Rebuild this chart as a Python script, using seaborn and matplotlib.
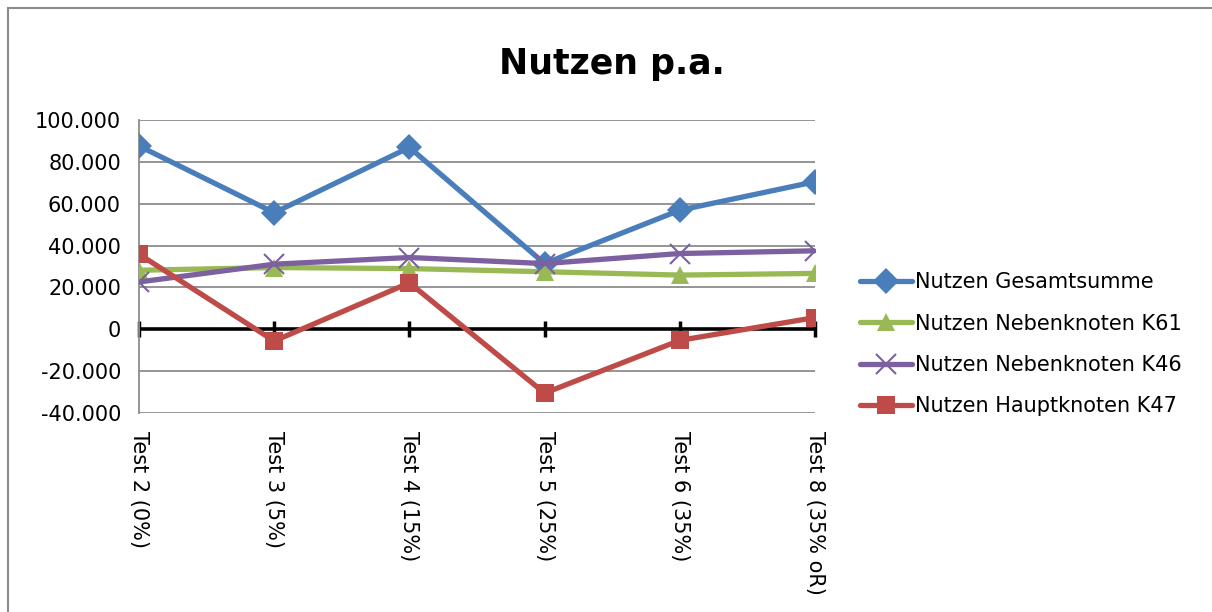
import pandas as pd
import matplotlib.pyplot as plt
import matplotlib.patches as patches
from matplotlib.ticker import FuncFormatter
import seaborn as sns

# Chart data
tests = ["Test 2 (0%)", "Test 3 (5%)", "Test 4 (15%)", "Test 5 (25%)", "Test 6 (35%)", "Test 8 (35% oR)"]
gesamtsumme = [87600, 55700, 86900, 31400, 56900, 70500]
neben_k61 = [28200, 29500, 29000, 27500, 25900, 26700]
neben_k46 = [22600, 31100, 34300, 31400, 36200, 37500]
haupt_k47 = [35900, -5600, 22200, -30500, -5300, 5600]

series = {
    "Nutzen Gesamtsumme": gesamtsumme,
    "Nutzen Nebenknoten K61": neben_k61,
    "Nutzen Nebenknoten K46": neben_k46,
    "Nutzen Hauptknoten K47": haupt_k47,
}
colors = ["#4A7EBB", "#98B954", "#7D60A0", "#BE4B48"]
markers = ["D", "^", "x", "s"]
msizes = [13, 13, 14, 13]

sns.set_style("white")
plt.rcParams["font.family"] = ["DejaVu Sans"]
plt.rcParams["text.color"] = "black"
plt.rcParams["xtick.labelcolor"] = "black"
plt.rcParams["ytick.labelcolor"] = "black"

fig = plt.figure(figsize=(12.12, 6.12), dpi=100)
ax = fig.add_axes([139 / 1212, 1 - 413 / 612, (815 - 139) / 1212, (413 - 120) / 612])

ymin, ymax = -40000, 100000
for (name, vals), c, m, ms in zip(series.items(), colors, markers, msizes):
    df = pd.DataFrame({"x": range(len(tests)), "y": vals})
    sns.lineplot(data=df, x="x", y="y", ax=ax, color=c, lw=3.8, marker=m,
                 markersize=ms, markeredgecolor=c, markeredgewidth=1.5 if m == "x" else 0,
                 label=name, zorder=3)

ax.set_xlim(0, len(tests) - 1)
ax.set_ylim(ymin, ymax)
ax.set_yticks(range(ymin, ymax + 1, 20000))
ax.yaxis.set_major_formatter(FuncFormatter(lambda v, p: f"{int(v):,}".replace(",", ".")))
ax.set_xticks(range(len(tests)))
ax.set_xticklabels(tests, rotation=-90, ha="center", va="top")
ax.set_xlabel("")
ax.set_ylabel("")

ax.grid(axis="y", color="#8C8C8C", lw=1.3)
ax.set_axisbelow(True)
for s in ["top", "right", "bottom"]:
    ax.spines[s].set_visible(False)
ax.spines["left"].set_color("#8C8C8C")
ax.spines["left"].set_linewidth(1.3)
ax.tick_params(axis="y", length=7, width=1.3, color="#8C8C8C", labelsize=15, pad=6)
ax.tick_params(axis="x", length=0, labelsize=15, pad=13)

# zero line acting as category axis
ax.axhline(0, color="black", lw=2.6, zorder=2)
zero = ax.secondary_xaxis((0 - ymin) / (ymax - ymin))
zero.set_xticks(range(len(tests)))
zero.set_xticklabels([])
zero.spines["bottom"].set_visible(False)
zero.tick_params(axis="x", direction="inout", length=12, width=2.5, color="black")

fig.text(612 / 1212, 1 - 74 / 612, "Nutzen p.a.", fontsize=25, fontweight="bold",
         ha="center", va="baseline")

ax.legend(loc="upper left", bbox_to_anchor=(852 / 1212, 1 - 264 / 612),
          bbox_transform=fig.transFigure, frameon=False, fontsize=15,
          handlelength=2.5, handletextpad=0.12, labelspacing=1.02, borderaxespad=0)

# outer chart border
fig.patches.append(patches.Rectangle((8 / 1212, -0.1), 1.2, 1 - 8 / 612 + 0.1,
                                     transform=fig.transFigure, fill=False,
                                     edgecolor="#8C8C8C", lw=1.5))

fig.savefig("out.png", dpi=100)
